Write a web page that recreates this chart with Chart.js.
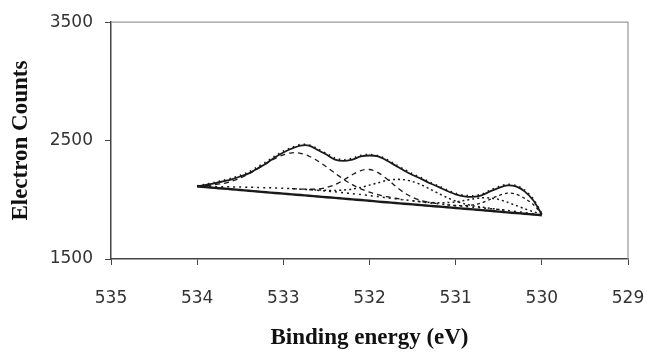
<!DOCTYPE html>
<html>
<head>
<meta charset="utf-8">
<script src="https://cdn.jsdelivr.net/npm/chart.js@4.4.0/dist/chart.umd.min.js"></script>
<style>
  html, body { margin: 0; padding: 0; background: #fff; }
  #wrap { width: 648px; height: 353px; }
</style>
</head>
<body>
<div id="wrap"><canvas id="xpsChart" width="648" height="353"></canvas></div>
<script>
// Binding energy grid (eV), every 0.1 eV
const energy = [534.0, 533.9, 533.8, 533.7, 533.6, 533.5, 533.4, 533.3, 533.2, 533.1,
                533.0, 532.9, 532.8, 532.7, 532.6, 532.5, 532.4, 532.3, 532.2, 532.1,
                532.0, 531.9, 531.8, 531.7, 531.6, 531.5, 531.4, 531.3, 531.2, 531.1,
                531.0, 530.9, 530.8, 530.7, 530.6, 530.5, 530.4, 530.3, 530.2, 530.1, 530.0];

// Fitted envelope (solid)
const envelope = [2113, 2125, 2139, 2155, 2172, 2197, 2223, 2265, 2307, 2357,
                  2399, 2433, 2458, 2458, 2420, 2382, 2340, 2328, 2340, 2366,
                  2374, 2366, 2332, 2290, 2248, 2210, 2177, 2140, 2109, 2075,
                  2046, 2029, 2025, 2038, 2071, 2101, 2122, 2113, 2071, 1996, 1875];

// Measured spectrum (dots on top of the envelope)
const rawData = [2116, 2130, 2145, 2163, 2181, 2205, 2234, 2276, 2318, 2366,
                 2410, 2441, 2466, 2462, 2428, 2390, 2350, 2337, 2349, 2374,
                 2381, 2371, 2340, 2298, 2257, 2218, 2184, 2148, 2116, 2083,
                 2053, 2037, 2033, 2046, 2080, 2110, 2130, 2119, 2080, 2006, 1880];

// Straight background (solid)
const background = [2113, 2107, 2101, 2095, 2089, 2083, 2077, 2070, 2064, 2058,
                    2052, 2046, 2040, 2034, 2028, 2022, 2016, 2010, 2004, 1998,
                    1992, 1985, 1979, 1973, 1967, 1961, 1955, 1949, 1943, 1937,
                    1931, 1925, 1919, 1913, 1907, 1900, 1894, 1888, 1882, 1876, 1870];

// Baseline the components sit on (dotted)
const shirley = [2113, 2112, 2111, 2110, 2109, 2108, 2106, 2104, 2102, 2100,
                 2097, 2094, 2090, 2085, 2080, 2074, 2067, 2060, 2052, 2044,
                 2036, 2027, 2018, 2009, 2000, 1991, 1982, 1974, 1966, 1958,
                 1950, 1944, 1938, 1932, 1925, 1918, 1910, 1902, 1893, 1882, 1870];

// Component peaks
const peak1 = [2117, 2120, 2127, 2138, 2157, 2184, 2219, 2261, 2306, 2348,
               2380, 2397, 2393, 2368, 2328, 2278, 2224, 2173, 2128, 2092,
               2064, 2043, 2026, 2013, 2002, null, null, null, null, null,
               null, null, null, null, null, null, null, null, null, null, null];

const peak2 = [null, null, null, null, null, null, null, null, null, null,
               null, 2094, 2091, 2089, 2092, 2104, 2128, 2167, 2212, 2247,
               2256, 2230, 2178, 2116, 2061, 2021, 1994, 1978, 1967, null,
               null, null, null, null, null, null, null, null, null, null, null];

const peak3 = [null, null, null, null, null, null, null, null, null, null,
               null, null, null, 2085, 2083, 2080, 2079, 2083, 2091, 2105,
               2124, 2144, 2163, 2172, 2170, 2154, 2127, 2091, 2054, 2019,
               1989, 1967, 1950, 1938, 1928, 1919, 1910, null, null, null, null];

const peak4 = [null, null, null, null, null, null, null, null, null, null,
               null, null, null, null, null, null, null, null, null, null,
               null, null, null, null, null, 1991, 1984, 1978, 1975, 1976,
               1982, 1994, 2007, 2017, 2015, 2003, 1979, 1952, 1925, 1900, 1879];

const peak5 = [null, null, null, null, null, null, null, null, null, null,
               null, null, null, null, null, null, null, null, null, null,
               null, null, null, null, null, null, null, null, null, 1958,
               1952, 1951, 1957, 1974, 2004, 2037, 2056, 2048, 2012, 1961, 1880];

const xTicks = [535, 534, 533, 532, 531, 530, 529];
const yTicks = [1500, 2500, 3500];

function toPoints(values) {
    return energy.map((e, i) => ({ x: e, y: values[i] }));
}

function lineSet(label, values, width, dash) {
    return {
        label: label,
        data: toPoints(values),
        showLine: true,
        borderColor: '#1a1a1a',
        borderWidth: width,
        borderDash: dash,
        pointRadius: 0,
        fill: false,
        tension: 0.3,
        spanGaps: false
    };
}

// top and right edges of the plot box
const frameBox = {
    id: 'frameBox',
    afterDraw(chart) {
        const a = chart.chartArea;
        const ctx = chart.ctx;
        ctx.save();
        ctx.strokeStyle = '#9a9a9a';
        ctx.lineWidth = 1.2;
        ctx.beginPath();
        ctx.moveTo(a.left, a.top);
        ctx.lineTo(a.right, a.top);
        ctx.lineTo(a.right, a.bottom);
        ctx.stroke();
        ctx.restore();
    }
};

const tickFont = { family: 'DejaVu Sans', size: 17 };
const titleFont = { family: 'Liberation Serif', size: 23, weight: 'bold' };

new Chart(document.getElementById('xpsChart').getContext('2d'), {
    type: 'scatter',
    data: {
        datasets: [
            lineSet('Data', rawData, 2, [1.5, 4]),
            lineSet('Envelope', envelope, 1.8, []),
            lineSet('Peak 1', peak1, 1.3, [5, 4]),
            lineSet('Peak 2', peak2, 1.3, [5, 4]),
            lineSet('Peak 3', peak3, 1.5, [2, 3]),
            lineSet('Peak 4', peak4, 1.5, [2, 3]),
            lineSet('Peak 5', peak5, 1.3, [3, 3]),
            lineSet('Baseline', shirley, 1.5, [2, 4]),
            lineSet('Background', background, 2.4, [])
        ]
    },
    options: {
        responsive: false,
        animation: false,
        layout: { padding: { top: 21, right: 20, left: 0, bottom: 0 } },
        plugins: {
            legend: { display: false },
            tooltip: { enabled: false }
        },
        scales: {
            x: {
                type: 'linear',
                reverse: true,
                min: 529,
                max: 535,
                afterBuildTicks: s => { s.ticks = xTicks.map(v => ({ value: v })); },
                afterFit: s => { s.height = 94; s.paddingLeft = 0; s.paddingRight = 0; },
                grid: { display: true, drawOnChartArea: false, drawTicks: true, tickLength: 6, color: '#444' },
                border: { color: '#444', width: 1.5 },
                ticks: { font: tickFont, color: '#333', padding: 23, maxRotation: 0, callback: v => String(v) },
                title: { display: true, text: 'Binding energy (eV)', font: titleFont, color: '#111', padding: { top: 0, bottom: 1 } }
            },
            y: {
                min: 1500,
                max: 3500,
                afterBuildTicks: s => { s.ticks = yTicks.map(v => ({ value: v })); },
                afterFit: s => { s.width = 111; },
                grid: { display: true, drawOnChartArea: false, drawTicks: true, tickLength: 6, color: '#444' },
                border: { color: '#444', width: 1.5 },
                ticks: { font: tickFont, color: '#333', padding: 12, callback: v => String(v) },
                title: { display: true, text: 'Electron Counts', font: titleFont, color: '#111', padding: { top: 7, bottom: 0 } }
            }
        }
    },
    plugins: [frameBox]
});
</script>
</body>
</html>
